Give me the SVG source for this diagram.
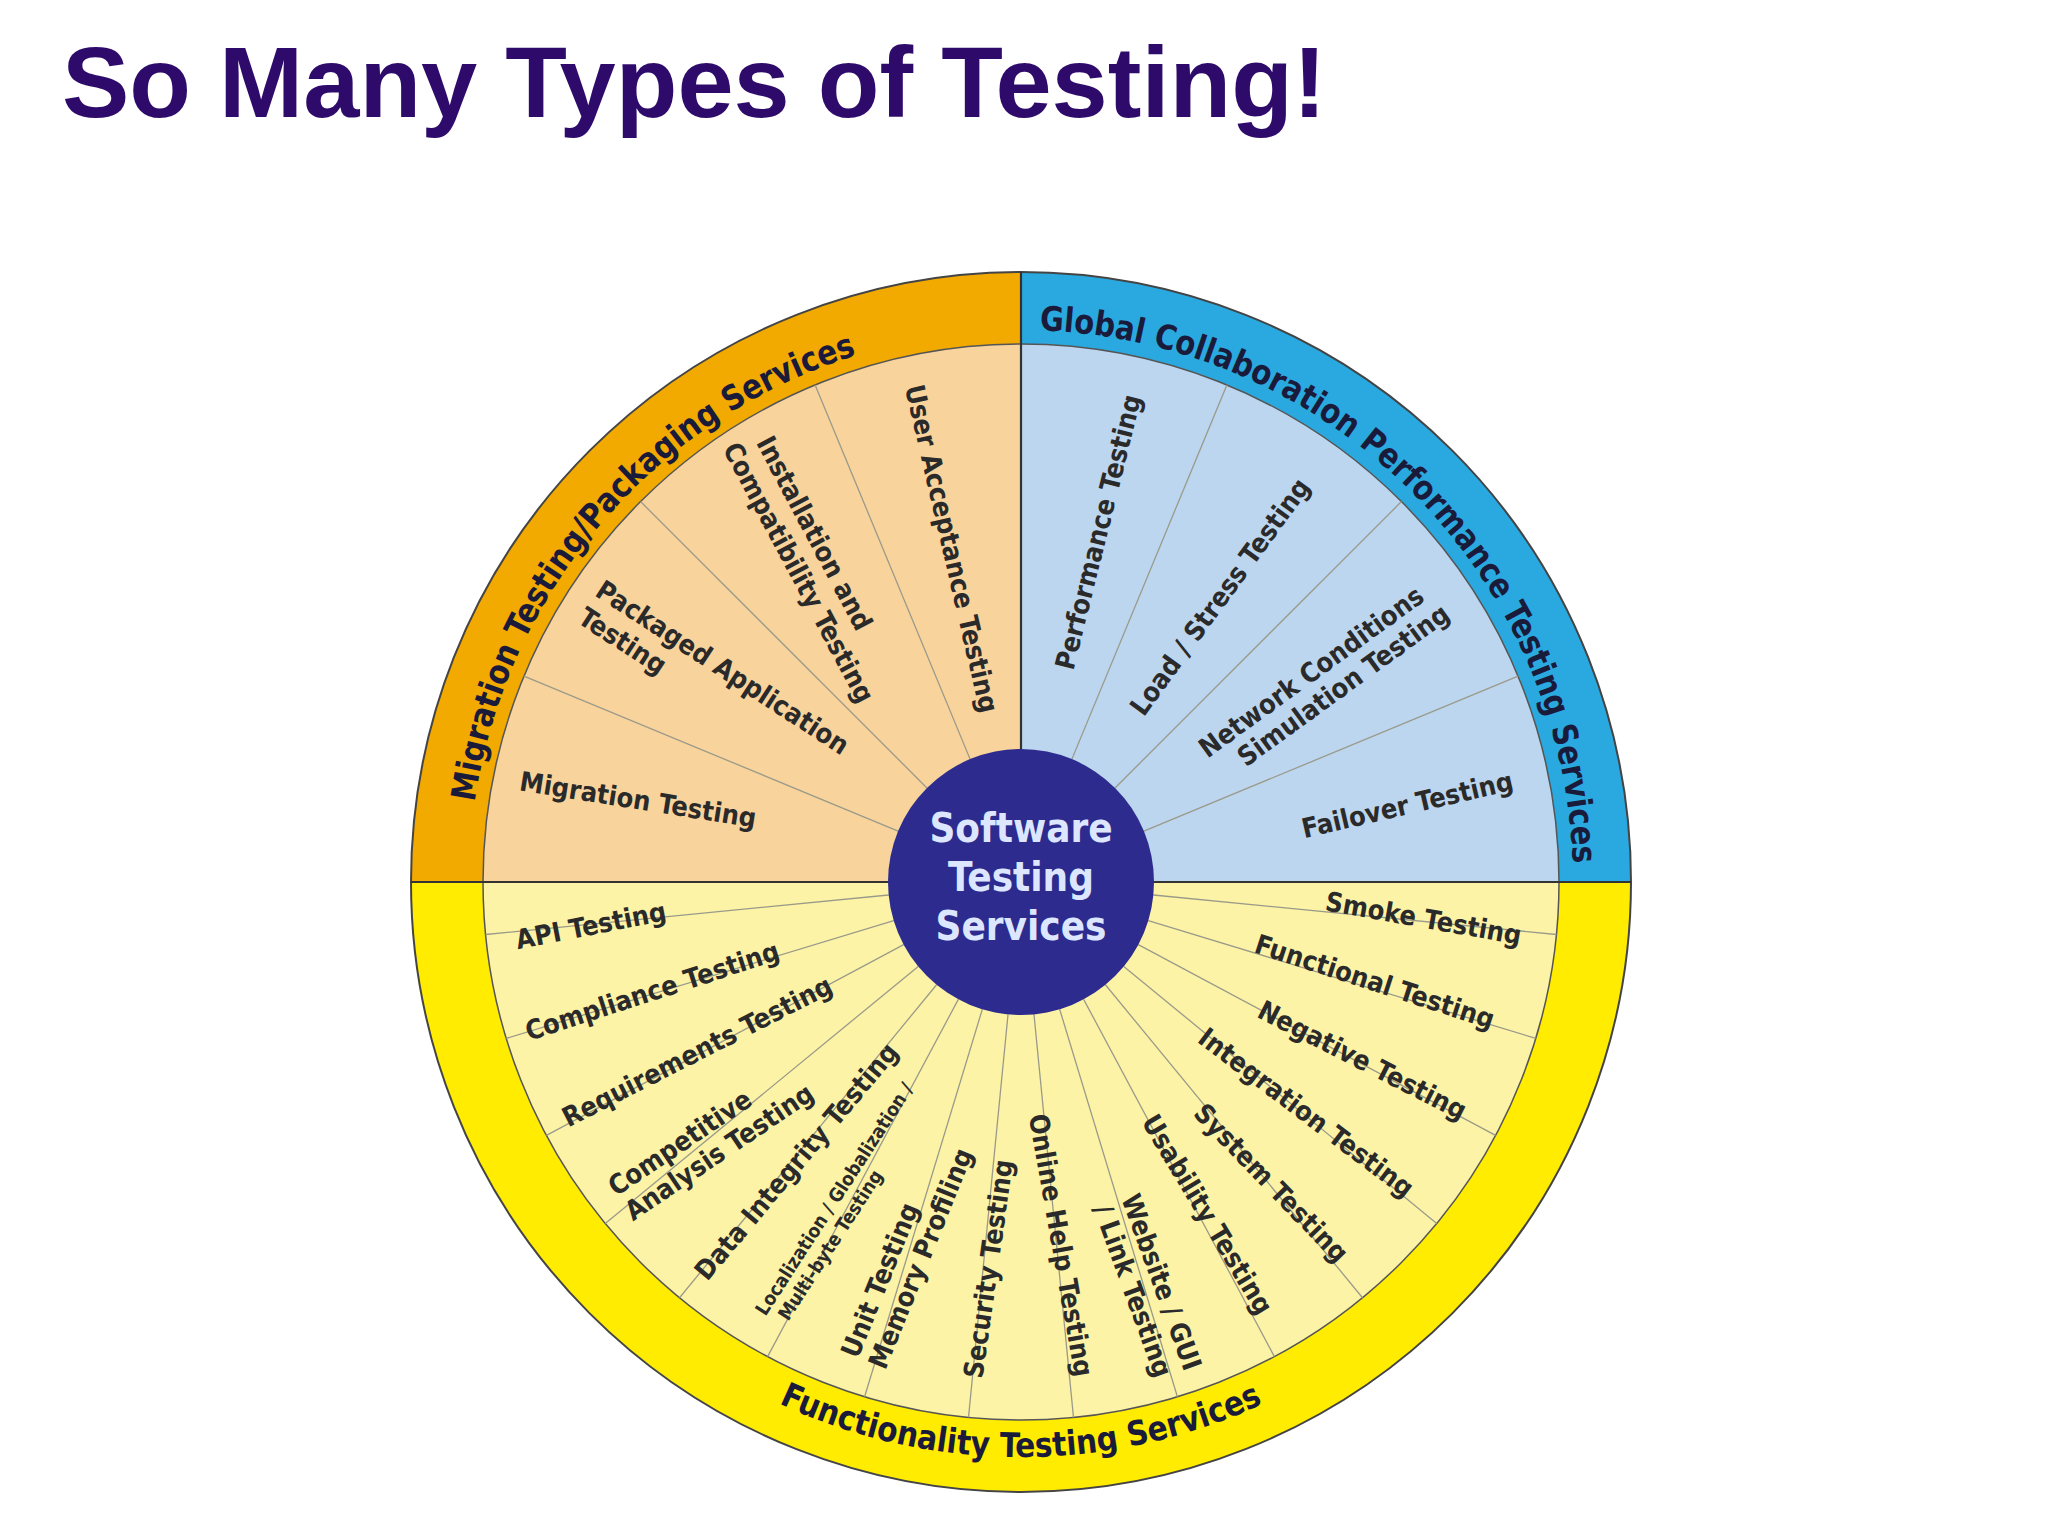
<svg xmlns="http://www.w3.org/2000/svg" width="2048" height="1536" viewBox="0 0 2048 1536">
<style>
.t{font-family:"Liberation Sans Narrow","DejaVu Sans Condensed","Liberation Sans",sans-serif;font-weight:bold;font-size:27px;fill:#2a2a2a}
.s{font-size:19px}
.b{font-family:"Liberation Sans Narrow","DejaVu Sans Condensed","Liberation Sans",sans-serif;font-weight:bold;font-size:34px;fill:#1a1a3a}
.sep{stroke:#9a9a8a;stroke-width:1.3}
.q{stroke:#333;stroke-width:2.2}
</style>
<defs>
<path id="pTL" d="M469 882 A552 552 0 0 1 1021 330"/>
<path id="pTR" d="M1021 330 A552 552 0 0 1 1573 882"/>
<path id="pB" d="M523 1169.5 A575 575 0 0 0 1519 1169.5"/>
</defs>
<rect width="2048" height="1536" fill="#fff"/>
<text x="62" y="117" font-family="Liberation Sans,Arial,sans-serif" font-weight="bold" font-size="101" fill="#2e0a6b">So Many Types of Testing!</text>
<g id="wheel">
<circle cx="1021" cy="882" r="610" fill="#ffec00"/>
<path d="M1021 882 L411 882 A610 610 0 0 1 1021 272 Z" fill="#f2a900"/>
<path d="M1021 882 L1021 272 A610 610 0 0 1 1631 882 Z" fill="#2aa9e0"/>
<circle cx="1021" cy="882" r="538" fill="#fdf3a6"/>
<path d="M1021 882 L483 882 A538 538 0 0 1 1021 344 Z" fill="#f8d39c"/>
<path d="M1021 882 L1021 344 A538 538 0 0 1 1559 882 Z" fill="#bcd6ef"/>
<circle cx="1021" cy="882" r="538" fill="none" stroke="#555" stroke-width="1.5"/>
<circle cx="1021" cy="882" r="610" fill="none" stroke="#444" stroke-width="2"/>
</g>
<g id="connectors">
<g transform="translate(1021 882)">
<line class="sep" x1="133" y1="0" x2="538" y2="0" transform="rotate(-157.5)"/>
<line class="sep" x1="133" y1="0" x2="538" y2="0" transform="rotate(-135)"/>
<line class="sep" x1="133" y1="0" x2="538" y2="0" transform="rotate(-112.5)"/>
<line class="sep" x1="133" y1="0" x2="538" y2="0" transform="rotate(-67.5)"/>
<line class="sep" x1="133" y1="0" x2="538" y2="0" transform="rotate(-45)"/>
<line class="sep" x1="133" y1="0" x2="538" y2="0" transform="rotate(-22.5)"/>
<line class="sep" x1="133" y1="0" x2="538" y2="0" transform="rotate(5.6)"/>
<line class="sep" x1="133" y1="0" x2="538" y2="0" transform="rotate(16.9)"/>
<line class="sep" x1="133" y1="0" x2="538" y2="0" transform="rotate(28.1)"/>
<line class="sep" x1="133" y1="0" x2="538" y2="0" transform="rotate(39.4)"/>
<line class="sep" x1="133" y1="0" x2="538" y2="0" transform="rotate(50.6)"/>
<line class="sep" x1="133" y1="0" x2="538" y2="0" transform="rotate(61.9)"/>
<line class="sep" x1="133" y1="0" x2="538" y2="0" transform="rotate(73.1)"/>
<line class="sep" x1="133" y1="0" x2="538" y2="0" transform="rotate(84.4)"/>
<line class="sep" x1="133" y1="0" x2="538" y2="0" transform="rotate(95.6)"/>
<line class="sep" x1="133" y1="0" x2="538" y2="0" transform="rotate(106.9)"/>
<line class="sep" x1="133" y1="0" x2="538" y2="0" transform="rotate(118.1)"/>
<line class="sep" x1="133" y1="0" x2="538" y2="0" transform="rotate(129.4)"/>
<line class="sep" x1="133" y1="0" x2="538" y2="0" transform="rotate(140.6)"/>
<line class="sep" x1="133" y1="0" x2="538" y2="0" transform="rotate(151.9)"/>
<line class="sep" x1="133" y1="0" x2="538" y2="0" transform="rotate(163.1)"/>
<line class="sep" x1="133" y1="0" x2="538" y2="0" transform="rotate(174.4)"/>
</g>
<line class="q" x1="411" y1="882" x2="1631" y2="882"/>
<line class="q" x1="1021" y1="272" x2="1021" y2="882"/>
</g>
<g id="bands">
<text class="b"><textPath href="#pTL" startOffset="45%" text-anchor="middle" textLength="620" lengthAdjust="spacingAndGlyphs">Migration Testing/Packaging Services</textPath></text>
<text class="b"><textPath href="#pTR" startOffset="50%" text-anchor="middle" textLength="830" lengthAdjust="spacingAndGlyphs">Global Collaboration Performance Testing Services</textPath></text>
<text class="b"><textPath href="#pB" startOffset="50%" text-anchor="middle" textLength="500" lengthAdjust="spacingAndGlyphs">Functionality Testing Services</textPath></text>
</g>
<g id="labels" class="t">
<text class="t" transform="translate(914 385) rotate(77)" dy="0.35em">User Acceptance Testing</text>
<text class="t" transform="translate(764 438) rotate(62)" dy="0.35em">Installation and<tspan x="-10" dy="1.2em">Compatibility Testing</tspan></text>
<text class="t" transform="translate(599 587) rotate(33)" dy="0.35em">Packaged Application<tspan x="0" dy="1.2em">Testing</tspan></text>
<text class="t" transform="translate(520 781) rotate(9)" dy="0.35em">Migration Testing</text>
<text class="t" transform="translate(1064 669) rotate(-76)" dy="0.35em">Performance Testing</text>
<text class="t" transform="translate(1136 712) rotate(-54)" dy="0.35em">Load / Stress Testing</text>
<text class="t" transform="translate(1202 751) rotate(-36)" dy="0.35em">Network Conditions<tspan x="26" dy="1.1em">Simulation Testing</tspan></text>
<text class="t" transform="translate(1302 829) rotate(-13)" dy="0.35em">Failover Testing</text>
<text class="t" transform="translate(1326 901) rotate(10)" dy="0.35em">Smoke Testing</text>
<text class="t" transform="translate(1256 943) rotate(18)" dy="0.35em">Functional Testing</text>
<text class="t" transform="translate(1260 1008) rotate(27)" dy="0.35em">Negative Testing</text>
<text class="t" transform="translate(1202 1034) rotate(37)" dy="0.35em">Integration Testing</text>
<text class="t" transform="translate(1199 1108) rotate(46)" dy="0.35em">System Testing</text>
<text class="t" transform="translate(1149 1117) rotate(59)" dy="0.35em">Usability Testing</text>
<text class="t" transform="translate(1130 1195) rotate(70)" dy="0.35em">Website / GUI<tspan x="0" dy="1.1em">/ Link Testing</tspan></text>
<text class="t" transform="translate(1038 1114) rotate(80)" dy="0.35em">Online Help Testing</text>
<text class="t" transform="translate(516 940) rotate(-11)" dy="0.35em">API Testing</text>
<text class="t" transform="translate(526 1032) rotate(-18)" dy="0.35em">Compliance Testing</text>
<text class="t" transform="translate(564 1119) rotate(-27)" dy="0.35em">Requirements Testing</text>
<text class="t" transform="translate(611 1189) rotate(-34)" dy="0.35em">Competitive<tspan x="0" dy="1.1em">Analysis Testing</tspan></text>
<text class="t" transform="translate(700 1276) rotate(-50)" dy="0.35em">Data Integrity Testing</text>
<text class="t s" transform="translate(760 1313) rotate(-57)" dy="0.35em">Localization / Globalization /<tspan x="8" dy="1.15em">Multi-byte Testing</tspan></text>
<text class="t" transform="translate(849 1356) rotate(-68)" dy="0.35em">Unit Testing<tspan x="0" dy="1.1em">Memory Profiling</tspan></text>
<text class="t" transform="translate(973 1378) rotate(-82)" dy="0.35em">Security Testing</text>
</g>
<g id="hub">
<circle cx="1021" cy="882" r="133" fill="#2d2b8e"/>
<g font-family="Liberation Sans Narrow,DejaVu Sans Condensed,Liberation Sans,sans-serif" font-weight="bold" font-size="40" fill="#dde6ff" text-anchor="middle">
<text x="1021" y="842">Software</text>
<text x="1021" y="891">Testing</text>
<text x="1021" y="940">Services</text>
</g>
</g>
</svg>
